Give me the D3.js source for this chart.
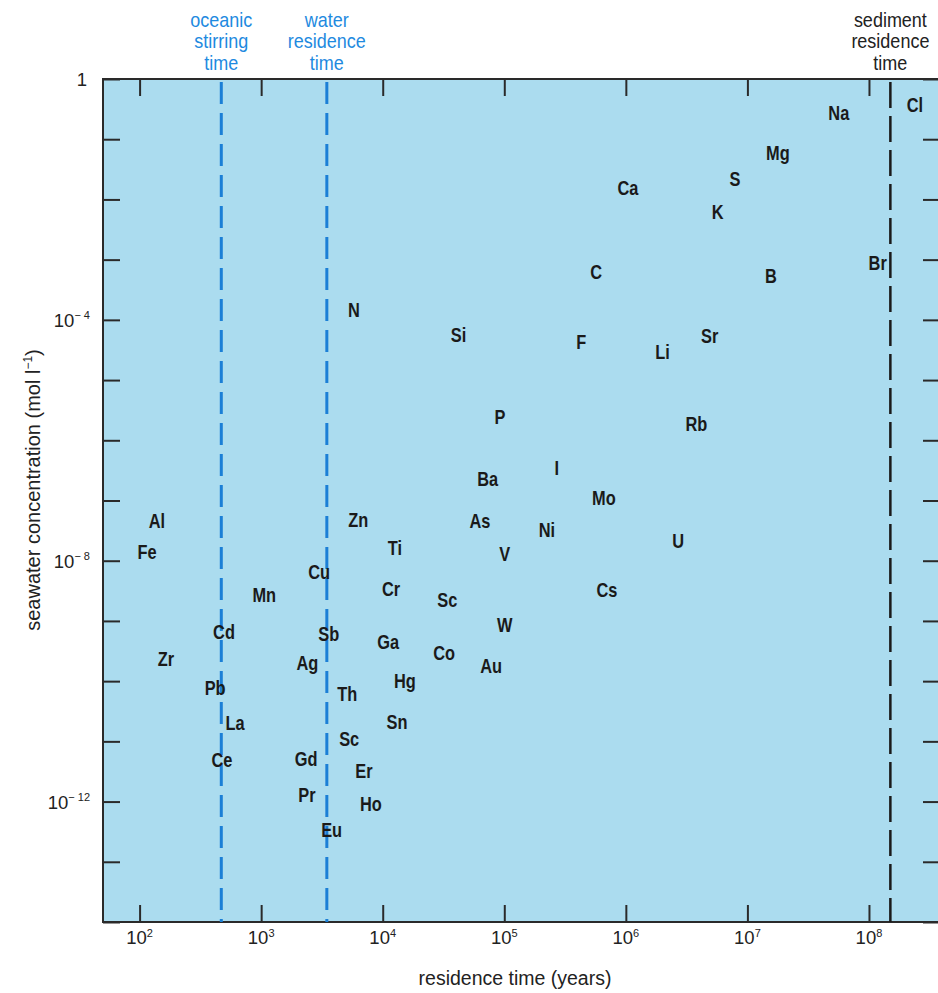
<!DOCTYPE html>
<html>
<head>
<meta charset="utf-8">
<script src="https://cdn.jsdelivr.net/npm/d3@7"></script>
<style>
  body { margin: 0; background: #fff; }
  svg { display: block; }
  text { font-family: "Liberation Sans Narrow", "Arial Narrow", "Liberation Sans", sans-serif; }
  .el { font-size: 20px; font-weight: bold; fill: #1a1a1a; }
  .tick-label { font-size: 18.5px; fill: #222; }
</style>
</head>
<body>
<svg width="938" height="993"></svg>
<script>
// element symbols, residence time (years) and seawater concentration (mol/l)
const elements = ["Na", "Cl", "Br", "Mg", "S", "Ca", "K", "C", "B", "F", "Li", "Sr",
  "N", "Si", "P", "Ba", "As", "V", "Zn", "Ti", "Al", "Fe", "Cu", "Cr", "Mn", "Sc",
  "W", "Cd", "Sb", "Ga", "Co", "Au", "Zr", "Ag", "Hg", "Pb", "Th", "La", "Sn", "Sc",
  "Ce", "Gd", "Er", "Pr", "Ho", "Eu", "Rb", "I", "Mo", "Ni", "U", "Cs"];
const residenceTimes = [5.65e7, 2.39e8, 1.18e8, 1.78e7, 7.9e6, 1.04e6, 5.7e6, 5.7e5, 1.56e7, 4.3e5, 2.0e6, 4.9e6,
  5.8e3, 4.2e4, 9.2e4, 7.3e4, 6.3e4, 1.01e5, 6.3e3, 1.26e4, 139, 115, 3.0e3, 1.17e4, 1.06e3, 3.4e4,
  1.01e5, 495, 3.6e3, 1.11e4, 3.2e4, 7.8e4, 165, 2.4e3, 1.52e4, 418, 5.1e3, 610, 1.31e4, 5.3e3,
  476, 2.34e3, 7.0e3, 2.38e3, 8.0e3, 3.8e3, 3.8e6, 2.7e5, 6.6e5, 2.24e5, 2.7e6, 7.0e5];
const concentrations = [2.73e-1, 3.7e-1, 8.8e-4, 5.9e-2, 2.19e-2, 1.55e-2, 6.2e-3, 6.3e-4, 5.4e-4, 4.3e-5, 2.9e-5, 5.4e-5,
  1.47e-4, 5.6e-5, 2.45e-6, 2.3e-7, 4.6e-8, 1.31e-8, 4.8e-8, 1.64e-8, 4.6e-8, 1.41e-8, 6.6e-9, 3.4e-9, 2.7e-9, 2.25e-9,
  8.7e-10, 6.6e-10, 6.1e-10, 4.5e-10, 2.97e-10, 1.81e-10, 2.36e-10, 2.03e-10, 1.02e-10, 7.8e-11, 6.2e-11, 2.05e-11, 2.13e-11, 1.11e-11,
  5.0e-12, 5.2e-12, 3.3e-12, 1.31e-12, 9.3e-13, 3.4e-13, 1.88e-6, 3.5e-7, 1.11e-7, 3.3e-8, 2.15e-8, 3.3e-9];

// reference times drawn as dashed lines
const markerLabels = [["oceanic", "stirring", "time"], ["water", "residence", "time"], ["sediment", "residence", "time"]];
const markerTimes = [470, 3470, 1.5e8];
const markerKinds = ["blue", "blue", "black"];

const xTickExps = [2, 3, 4, 5, 6, 7, 8];
const yTickExps = [0, -1, -2, -3, -4, -5, -6, -7, -8, -9, -10, -11, -12, -13, -14];
const yLabelExps = [0, -4, -8, -12];

const svg = d3.select("svg");
const pLeft = 103, pRight = 940, pTop = 79, pBottom = 922;

const x = d3.scaleLog().domain([50, 3.84e8]).range([pLeft, pRight]);
const y = d3.scaleLog().domain([1, 1e-14]).range([pTop, pBottom]);

svg.append("rect")
  .attr("x", pLeft).attr("y", pTop)
  .attr("width", pRight - pLeft).attr("height", pBottom - pTop)
  .attr("fill", "#abdcef");

const xTicks = xTickExps.map(e => Math.pow(10, e));
const yTicks = yTickExps.map(e => Math.pow(10, e));

function styleAxis(g) {
  g.select(".domain").remove();
  g.selectAll("line").attr("stroke", "#2a2a2a").attr("stroke-width", 2);
  g.selectAll("text").remove();
}

svg.append("g").attr("transform", `translate(0,${pBottom})`)
  .call(d3.axisBottom(x).tickValues(xTicks).tickSize(-17)).call(styleAxis);
svg.append("g").attr("transform", `translate(0,${pTop})`)
  .call(d3.axisTop(x).tickValues(xTicks).tickSize(-17)).call(styleAxis);
svg.append("g").attr("transform", `translate(${pLeft},0)`)
  .call(d3.axisLeft(y).tickValues(yTicks).tickSize(-17)).call(styleAxis);
svg.append("g").attr("transform", `translate(${pRight},0)`)
  .call(d3.axisRight(y).tickValues(yTicks).tickSize(-17)).call(styleAxis);

// frame
svg.append("rect")
  .attr("x", pLeft).attr("y", pTop)
  .attr("width", pRight - pLeft).attr("height", pBottom - pTop)
  .attr("fill", "none").attr("stroke", "#2a2a2a").attr("stroke-width", 2);

// dashed marker lines
markerTimes.forEach((t, i) => {
  const blue = markerKinds[i] === "blue";
  svg.append("line")
    .attr("x1", x(t)).attr("x2", x(t))
    .attr("y1", pTop + 3).attr("y2", pBottom)
    .attr("stroke", blue ? "#1b7fd6" : "#1a1a1a")
    .attr("stroke-width", blue ? 3 : 2.5)
    .attr("stroke-dasharray", blue ? "22,9" : "26,8");

  const lab = svg.append("text")
    .attr("transform", `translate(${x(t)},27) scale(0.9,1)`)
    .attr("text-anchor", "middle")
    .attr("font-size", 20)
    .attr("fill", blue ? "#1e8ae0" : "#222");
  markerLabels[i].forEach((w, j) => {
    lab.append("tspan").attr("x", 0).attr("dy", j ? 21.5 : 0).text(w);
  });
});

// element labels
svg.selectAll(".el")
  .data(elements)
  .enter().append("text")
  .attr("class", "el")
  .attr("transform", (d, i) => `translate(${x(residenceTimes[i])},${y(concentrations[i])}) scale(0.82,1)`)
  .attr("dy", "0.36em")
  .attr("text-anchor", "middle")
  .text(d => d);

// x tick labels
const xl = svg.selectAll(".xl")
  .data(xTickExps)
  .enter().append("text")
  .attr("class", "tick-label")
  .attr("x", d => x(Math.pow(10, d)))
  .attr("y", 944)
  .attr("text-anchor", "middle");
xl.append("tspan").text("10");
xl.append("tspan").attr("font-size", 11).attr("dy", -7).text(d => d);

// y tick labels
const yl = svg.selectAll(".yl")
  .data(yLabelExps)
  .enter().append("text")
  .attr("class", "tick-label")
  .attr("x", 90)
  .attr("y", d => y(Math.pow(10, d)) + 7)
  .attr("text-anchor", "end");
yl.filter(d => d === 0).attr("x", 87).text("1");
yl.filter(d => d !== 0).each(function(d) {
  const t = d3.select(this);
  t.append("tspan").text("10");
  t.append("tspan").attr("font-size", 11).attr("dy", -8).text("\u2212 " + (-d));
});

// axis titles
svg.append("text")
  .attr("x", 515).attr("y", 985)
  .attr("text-anchor", "middle")
  .attr("font-size", 19.5).attr("fill", "#222")
  .text("residence time (years)");

const yt = svg.append("text")
  .attr("transform", "translate(40,490) rotate(-90)")
  .attr("text-anchor", "middle")
  .attr("font-size", 20).attr("fill", "#222");
yt.append("tspan").text("seawater concentration (mol l");
yt.append("tspan").attr("font-size", 12).attr("dy", -8).text("\u22121");
yt.append("tspan").attr("dy", 8).text(")");
</script>
</body>
</html>
